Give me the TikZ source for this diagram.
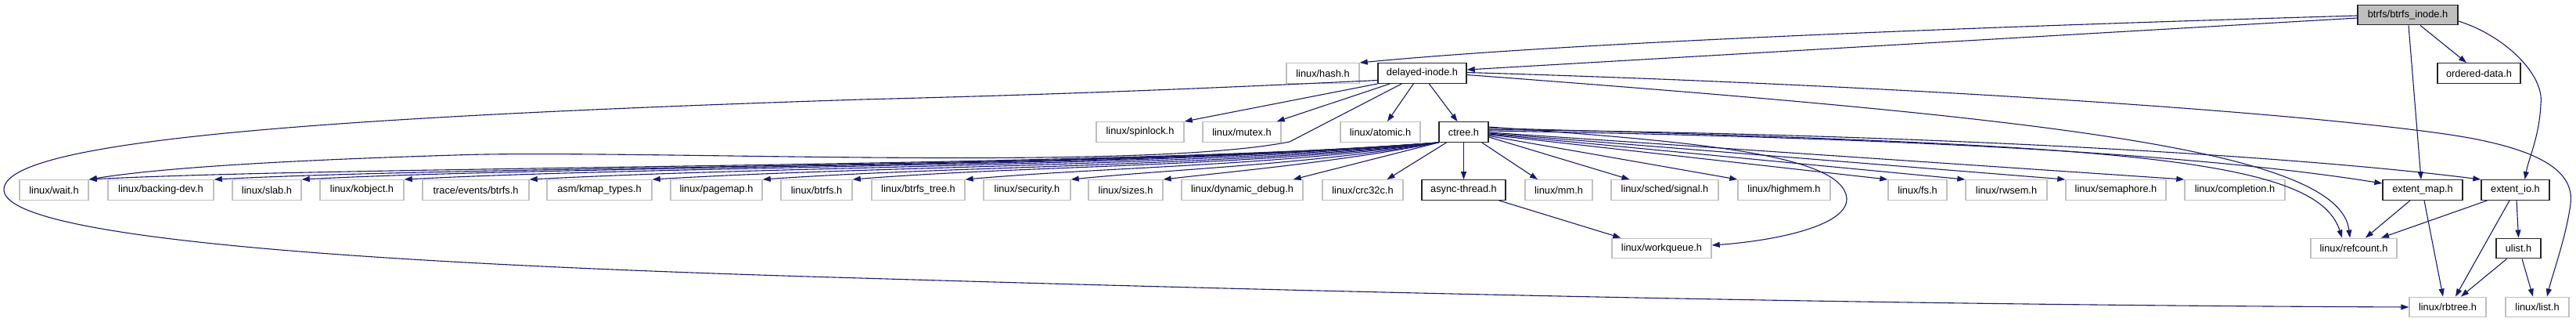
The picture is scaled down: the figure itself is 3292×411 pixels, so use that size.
\documentclass[tikz,border=0pt]{standalone}
\usepackage{fontspec}
\setmainfont{Liberation Sans}
\usetikzlibrary{arrows.meta}
\definecolor{edgeblue}{HTML}{191970}
\definecolor{nodegray}{HTML}{BFBFBF}
\begin{document}
\begin{tikzpicture}[x=1pt,y=-1pt,
  box/.style={draw, line width=1.4pt, rectangle, minimum height=25.5pt, inner sep=0pt, font=\fontsize{12.8}{15}\selectfont, anchor=center},
  gbox/.style={box, draw=nodegray},
  dbox/.style={box, draw=black!85},
  edge/.style={draw=edgeblue, line width=1.1pt, -{Triangle[length=10pt,width=7pt]}},
]
\useasboundingbox (0,0) rectangle (3292,411);
% row 1
\node[dbox, fill=nodegray, minimum width=128] (inode) at (3077,19) {btrfs/btrfs\_inode.h};
% row 2
\node[gbox, minimum width=93] (hash) at (1690.5,93.5) {linux/hash.h};
\node[dbox, minimum width=113] (delayed) at (1817.5,93.5) {delayed-inode.h};
\node[dbox, minimum width=106] (ordered) at (3168,93.5) {ordered-data.h};
% row 3
\node[gbox, minimum width=112] (spinlock) at (1457,168.5) {linux/spinlock.h};
\node[gbox, minimum width=100] (mutex) at (1587,168.5) {linux/mutex.h};
\node[gbox, minimum width=102] (atomic) at (1764,168.5) {linux/atomic.h};
\node[dbox, minimum width=63] (ctree) at (1870.5,168.5) {ctree.h};
% row 4
\node[gbox, minimum width=88] (wait) at (69,242.5) {linux/wait.h};
\node[gbox, minimum width=135] (backing) at (205.5,242.5) {linux/backing-dev.h};
\node[gbox, minimum width=88] (slab) at (341,242.5) {linux/slab.h};
\node[gbox, minimum width=107] (kobject) at (462.5,242.5) {linux/kobject.h};
\node[gbox, minimum width=136] (trace) at (608,242.5) {trace/events/btrfs.h};
\node[gbox, minimum width=134] (kmap) at (766,242.5) {asm/kmap\_types.h};
\node[gbox, minimum width=117] (pagemap) at (915.5,242.5) {linux/pagemap.h};
\node[gbox, minimum width=91] (lbtrfs) at (1043.5,242.5) {linux/btrfs.h};
\node[gbox, minimum width=119] (btrfstree) at (1173.5,242.5) {linux/btrfs\_tree.h};
\node[gbox, minimum width=111] (security) at (1312.5,242.5) {linux/security.h};
\node[gbox, minimum width=95] (sizes) at (1438.5,242.5) {linux/sizes.h};
\node[gbox, minimum width=155] (dyndbg) at (1587.5,242.5) {linux/dynamic\_debug.h};
\node[gbox, minimum width=103] (crc32c) at (1741.5,242.5) {linux/crc32c.h};
\node[dbox, minimum width=107] (async) at (1870.5,242.5) {async-thread.h};
\node[gbox, minimum width=86] (mm) at (1992,242.5) {linux/mm.h};
\node[gbox, minimum width=137] (signal) at (2127.5,242.5) {linux/sched/signal.h};
\node[gbox, minimum width=118] (highmem) at (2280,242.5) {linux/highmem.h};
\node[gbox, minimum width=75] (fs) at (2450.5,242.5) {linux/fs.h};
\node[gbox, minimum width=104] (rwsem) at (2564,242.5) {linux/rwsem.h};
\node[gbox, minimum width=128] (semaphore) at (2704,242.5) {linux/semaphore.h};
\node[gbox, minimum width=128] (completion) at (2856,242.5) {linux/completion.h};
\node[dbox, minimum width=102] (extentmap) at (3096,242.5) {extent\_map.h};
\node[dbox, minimum width=87] (extentio) at (3214.5,242.5) {extent\_io.h};
% row 5
\node[gbox, minimum width=127] (workqueue) at (2123.5,317) {linux/workqueue.h};
\node[gbox, minimum width=110] (refcount) at (3008,317) {linux/refcount.h};
\node[dbox, minimum width=57] (ulist) at (3218.5,317) {ulist.h};
% row 6
\node[gbox, minimum width=98] (rbtree) at (3128,392) {linux/rbtree.h};
\node[gbox, minimum width=81] (list) at (3242.5,392) {linux/list.h};

% edges from btrfs_inode.h
\draw[edge] ([yshift=-1pt]inode.west) .. controls (2500,35) and (2000,55) .. (hash.north east);
\draw[edge] ([yshift=-4pt]inode.west) -- ([yshift=4.5pt]delayed.east);
\draw[edge] ([xshift=16pt]inode.south) -- ([xshift=-16pt]ordered.north);
\draw[edge] ([xshift=1pt]inode.south) -- ([xshift=-2pt]extentmap.north);
\draw[edge] ([yshift=-8pt]inode.east) .. controls (3200,45) and (3252,95) .. (3247,133) .. controls (3245,175) and (3232,200) .. ([xshift=12pt]extentio.north);

% edges from delayed-inode.h
\draw[edge] (delayed.south west) -- (spinlock.north east);
\draw[edge] ([xshift=16pt]delayed.south west) -- ([xshift=-6pt]mutex.north east);
\draw[edge] ([xshift=31pt]delayed.south west) -- (1648,181) .. controls (1450,220) and (800,190) .. (582,198) .. controls (350,205) and (200,215) .. (wait.north east);
\draw[edge] ([xshift=46pt]delayed.south west) -- ([xshift=9pt]atomic.north);
\draw[edge] ([xshift=66pt]delayed.south west) -- ([xshift=-8pt]ctree.north);
\draw[edge] ([yshift=-2pt]delayed.east) .. controls (2600,150) and (2990,190) .. ([xshift=-5pt]refcount.north);
\draw[edge] ([yshift=1pt]delayed.east) .. controls (2400,108) and (2900,140) .. (3117,170) .. controls (3250,188) and (3290,220) .. (3285,260) .. controls (3280,300) and (3262,350) .. ([xshift=12.5pt]list.north);
\draw[edge] ([yshift=-9pt]delayed.west) .. controls (1500,115) and (1300,122) .. (1100,127) .. controls (400,150) and (5,180) .. (5,242) .. controls (5,300) and (400,335) .. (1100,355) .. controls (2000,382) and (2600,390) .. (rbtree.west);

% edges from ctree.h, left fan
\draw[edge] (ctree.south west) .. controls +(-400,32) and +(350,-18) .. (wait.north east);
\draw[edge] (ctree.south west) .. controls +(-400,32) and +(350,-18) .. (backing.north east);
\draw[edge] (ctree.south west) .. controls +(-400,32) and +(350,-18) .. (slab.north east);
\draw[edge] (ctree.south west) .. controls +(-400,32) and +(350,-18) .. (kobject.north east);
\draw[edge] (ctree.south west) .. controls +(-400,32) and +(349,-18) .. (trace.north east);
\draw[edge] (ctree.south west) .. controls +(-352,32) and +(302,-18) .. (kmap.north east);
\draw[edge] (ctree.south west) .. controls +(-303,32) and +(260,-18) .. (pagemap.north east);
\draw[edge] (ctree.south west) .. controls +(-262,32) and +(225,-18) .. (lbtrfs.north east);
\draw[edge] (ctree.south west) .. controls +(-212,30) and +(182,-16) .. (btrfstree.north east);
\draw[edge] (ctree.south west) .. controls +(-165,28) and +(141,-14) .. (security.north east);
\draw[edge] (ctree.south west) .. controls +(-124,24) and +(106,-12) .. (sizes.north east);
\draw[edge] (ctree.south west) -- ([xshift=-13pt]dyndbg.north east);
\draw[edge] ([xshift=-22pt]ctree.south) -- ([xshift=31pt]crc32c.north);
\draw[edge] (ctree.south) -- (async.north);

% edges from ctree.h, right fan
\draw[edge] ([xshift=-9pt]ctree.south east) -- ([xshift=-27pt]mm.north);
\draw[edge] ([yshift=-6.5pt]ctree.east) -- ([xshift=-45pt]signal.north);
\draw[edge] ([yshift=-5pt]ctree.east) -- (highmem.north west);
\draw[edge] ([yshift=-3.5pt]ctree.east) -- (fs.north west);
\draw[edge] ([yshift=-2.5pt]ctree.east) -- (rwsem.north west);
\draw[edge] ([yshift=-1.5pt]ctree.east) -- (semaphore.north west);
\draw[edge] ([yshift=-0.5pt]ctree.east) -- (completion.north west);
\draw[edge] ([yshift=1.5pt]ctree.east) .. controls (2400,175) and (2800,195) .. ([yshift=-5pt]extentmap.north west);
\draw[edge] ([yshift=3pt]ctree.east) .. controls (2400,170) and (2900,195) .. (extentio.north west);
\draw[edge] ([yshift=5pt]ctree.east) .. controls (2700,185) and (2960,200) .. ([xshift=-15pt]refcount.north);
\draw[edge] ([yshift=6.5pt]ctree.east) .. controls (2150,180) and (2355,195) .. (2360,253) .. controls (2362,290) and (2260,308) .. ([yshift=4pt]workqueue.east);

% remaining edges
\draw[edge] ([xshift=-9pt]async.south east) -- ([xshift=12pt]workqueue.north west);
\draw[edge] ([xshift=-16pt]extentmap.south) -- ([xshift=15pt]refcount.north);
\draw[edge] ([xshift=2pt]extentmap.south) -- ([xshift=-6pt]rbtree.north);
\draw[edge] ([xshift=-36pt]extentio.south) -- ([xshift=35pt]refcount.north);
\draw[edge] ([xshift=-7.5pt]extentio.south) -- ([xshift=10pt]rbtree.north);
\draw[edge] ([xshift=1.5pt]extentio.south) -- (ulist.north);
\draw[edge] ([xshift=-15pt]ulist.south) -- ([xshift=17pt]rbtree.north);
\draw[edge] ([xshift=4.5pt]ulist.south) -- ([xshift=-5.5pt]list.north);
\end{tikzpicture}
\end{document}
